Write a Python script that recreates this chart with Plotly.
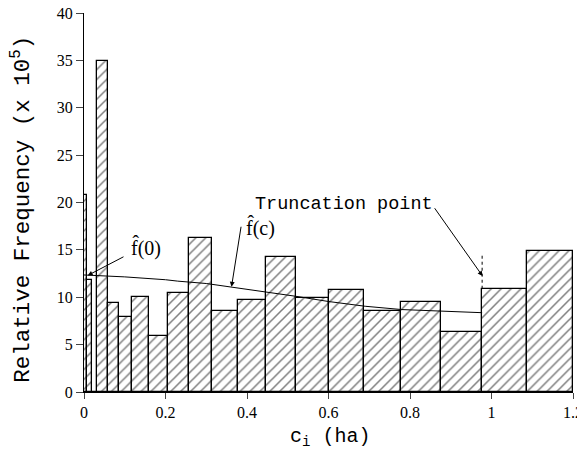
import plotly.graph_objects as go

# ---- data ----
bin_edges = [0, 0.0074, 0.019, 0.033, 0.060, 0.087, 0.119, 0.160, 0.205, 0.258,
             0.315, 0.377, 0.447, 0.521, 0.601, 0.687, 0.778, 0.875, 0.977, 1.086, 1.2]
rel_freq = [20.8, 11.8, 0, 34.9, 9.4, 7.9, 10.0, 5.9, 10.4, 16.3,
            8.5, 9.7, 14.3, 9.9, 10.8, 8.6, 9.45, 6.3, 10.9, 14.9]

curve_x = [0, 0.1, 0.2, 0.23, 0.3, 0.36, 0.45, 0.52, 0.6, 0.69, 0.78, 0.87, 0.977]
curve_y = [12.35, 12.15, 11.85, 11.7, 11.45, 11.1, 10.5, 10.1, 9.55, 9.05, 8.7, 8.52, 8.37]

x_ticks = [0, 0.2, 0.4, 0.6, 0.8, 1, 1.2]
y_ticks = [0, 5, 10, 15, 20, 25, 30, 35, 40]

truncation = 0.977

centers = [(a + b) / 2 for a, b in zip(bin_edges[:-1], bin_edges[1:])]
widths = [b - a for a, b in zip(bin_edges[:-1], bin_edges[1:])]

fig = go.Figure()
fig.add_trace(go.Bar(
    x=centers, y=rel_freq, width=widths,
    marker=dict(color="white",
                line=dict(color="black", width=1.3),
                pattern=dict(shape="/", fgcolor="black", bgcolor="white",
                             size=7, solidity=0.22, fillmode="overlay")),
    showlegend=False, hoverinfo="skip"))

fig.add_trace(go.Scatter(x=curve_x, y=curve_y, mode="lines",
                         line=dict(color="black", width=1), showlegend=False))

# truncation dotted line
fig.add_trace(go.Scatter(x=[truncation, truncation], y=[10.9, 14.6], mode="lines",
                         line=dict(color="black", width=1, dash="dot"), showlegend=False))

serif = "Liberation Serif"
mono = "Liberation Mono"

annots = []
# arrows
for hx, hy, tx, ty in [(0.009, 12.3, 0.1006, 14.35),
                       (0.362, 11.1, 0.386, 17.6),
                       (0.978, 12.24, 0.858, 19.55)]:
    annots.append(dict(x=hx, y=hy, ax=tx, ay=ty, xref="x", yref="y",
                       axref="x", ayref="y", text="", showarrow=True,
                       arrowhead=2, arrowsize=1, arrowwidth=1, arrowcolor="black"))
# labels
annots.append(dict(x=0.153, y=15.3, xref="x", yref="y", text="f\u0302(0)",
                   xanchor="center", yanchor="middle",
                   showarrow=False, font=dict(family=serif, size=20, color="black")))
annots.append(dict(x=0.434, y=17.4, xref="x", yref="y", text="f\u0302(c)",
                   xanchor="center", yanchor="middle",
                   showarrow=False, font=dict(family=serif, size=20, color="black")))
annots.append(dict(x=0.637, y=19.8, xref="x", yref="y", text="Truncation point",
                   xanchor="center", yanchor="middle",
                   showarrow=False, font=dict(family=mono, size=18.5, color="black")))
# axis titles
annots.append(dict(x=-0.127, y=0.483, xref="paper", yref="paper",
                   xanchor="center", yanchor="middle",
                   text="Relative Frequency (x 10<sup>5</sup>)", textangle=-90,
                   showarrow=False, font=dict(family=mono, size=22.5, color="black")))
annots.append(dict(x=0.503, y=-0.12, xref="paper", yref="paper",
                   xanchor="center", yanchor="middle",
                   text="c<sub>i</sub> (ha)",
                   showarrow=False, font=dict(family=mono, size=20, color="black")))

fig.update_layout(
    width=585, height=451,
    margin=dict(l=76, r=20, t=5, b=67),
    paper_bgcolor="white", plot_bgcolor="white",
    annotations=annots,
    bargap=0,
    xaxis=dict(range=[0, 1.2], tickvals=x_ticks, ticks="outside", ticklen=6,
               showline=True, linecolor="black", linewidth=1, showgrid=False,
               zeroline=False, automargin=False, ticklabeloverflow="allow",
               tickfont=dict(family=serif, size=16, color="black")),
    yaxis=dict(range=[0, 40], tickvals=y_ticks, ticks="outside", ticklen=7,
               showline=True, linecolor="black", linewidth=1, showgrid=False,
               zeroline=False, automargin=False, ticklabeloverflow="allow",
               tickfont=dict(family=serif, size=16, color="black")),
)

fig.write_html("out.html")
